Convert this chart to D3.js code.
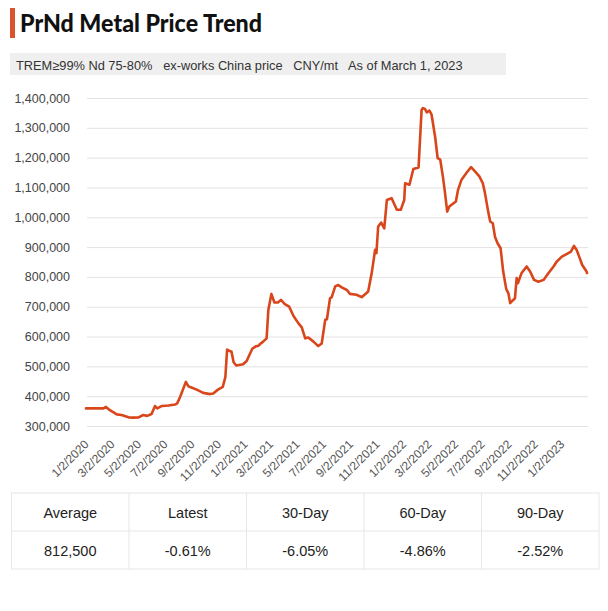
<!DOCTYPE html>
<html>
<head>
<meta charset="utf-8">
<script src="https://cdn.jsdelivr.net/npm/d3@7"></script>
<style>
  html, body { margin: 0; padding: 0; background: #fff; }
  svg { display: block; font-family: "Liberation Sans", Arial, sans-serif; }
</style>
</head>
<body>
<div id="chart"></div>
<script>
// ---- data ----
const title = "PrNd Metal Price Trend";
const subtitle = "TREM\u226599% Nd 75-80%   ex-works China price   CNY/mt   As of March 1, 2023";

const dates = [
  "2020-01-02","2020-02-11","2020-02-17","2020-02-26","2020-03-13","2020-03-24","2020-04-09","2020-04-20",
  "2020-05-02","2020-05-13","2020-05-22","2020-06-01","2020-06-09","2020-06-14","2020-06-24","2020-07-10",
  "2020-07-25","2020-07-30","2020-08-06","2020-08-19","2020-08-25","2020-09-01","2020-09-13","2020-09-28",
  "2020-10-14","2020-10-21","2020-11-01","2020-11-12","2020-11-18","2020-11-22","2020-11-28","2020-12-02",
  "2020-12-07","2020-12-13","2020-12-29","2021-01-06","2021-01-19","2021-01-27","2021-02-02","2021-02-06",
  "2021-02-13","2021-02-21","2021-02-25","2021-03-04","2021-03-11","2021-03-19","2021-03-26","2021-04-04",
  "2021-04-14","2021-04-24","2021-05-05","2021-05-13","2021-05-21","2021-05-28","2021-06-09","2021-06-20",
  "2021-06-28","2021-07-06","2021-07-10","2021-07-17","2021-07-21","2021-07-29","2021-08-05","2021-08-13",
  "2021-08-25","2021-09-01","2021-09-16","2021-09-28","2021-10-13","2021-10-21","2021-10-29","2021-11-01",
  "2021-11-05","2021-11-12","2021-11-19","2021-11-25","2021-12-06","2021-12-18","2021-12-27","2022-01-04",
  "2022-01-06","2022-01-16","2022-01-25","2022-02-06","2022-02-13","2022-02-16","2022-02-21","2022-02-25",
  "2022-03-03","2022-03-08","2022-03-16","2022-03-22","2022-03-28","2022-04-03","2022-04-08","2022-04-13",
  "2022-04-18","2022-04-23","2022-05-03","2022-05-08","2022-05-16","2022-05-28","2022-06-07","2022-06-16",
  "2022-06-26","2022-07-04","2022-07-09","2022-07-17","2022-07-21","2022-07-27","2022-08-01","2022-08-07",
  "2022-08-14","2022-08-20","2022-08-27","2022-09-01","2022-09-05","2022-09-11","2022-09-16","2022-09-20",
  "2022-09-23","2022-10-01","2022-10-13","2022-10-21","2022-10-30","2022-11-09","2022-11-21","2022-12-02",
  "2022-12-14","2022-12-21","2023-01-02","2023-01-14","2023-01-23","2023-01-30","2023-02-05","2023-02-11",
  "2023-02-18","2023-02-28","2023-03-01"
];
const prices = [
  359000,359000,364000,353000,339000,337000,329000,328000,
  329000,337000,334000,340000,367000,359000,367000,369000,
  372000,376000,398000,448000,433000,429000,422000,411000,
  407000,409000,422000,431000,464000,556000,551000,550000,
  514000,503000,507000,518000,559000,567000,569000,575000,
  583000,594000,689000,743000,714000,714000,723000,709000,
  700000,669000,645000,631000,594000,597000,583000,568000,
  577000,656000,658000,728000,732000,768000,773000,765000,
  756000,743000,740000,732000,751000,812000,891000,880000,
  969000,982000,963000,1058000,1064000,1025000,1025000,1058000,
  1114000,1109000,1162000,1167000,1360000,1366000,1363000,1352000,
  1358000,1344000,1271000,1198000,1193000,1137000,1081000,1019000,
  1036000,1042000,1053000,1092000,1126000,1150000,1168000,1154000,
  1137000,1114000,1081000,1014000,986000,980000,935000,913000,
  896000,818000,759000,745000,712000,721000,728000,796000,
  779000,812000,835000,818000,790000,784000,790000,812000,
  835000,851000,868000,877000,885000,904000,891000,868000,
  840000,818000,813000
];

const xTickLabels = ["1/2/2020","3/2/2020","5/2/2020","7/2/2020","9/2/2020","11/2/2020",
  "1/2/2021","3/2/2021","5/2/2021","7/2/2021","9/2/2021","11/2/2021",
  "1/2/2022","3/2/2022","5/2/2022","7/2/2022","9/2/2022","11/2/2022","1/2/2023"];
const yTicks = [300000,400000,500000,600000,700000,800000,900000,1000000,1100000,1200000,1300000,1400000];

const statHeaders = ["Average","Latest","30-Day","60-Day","90-Day"];
const statValues = ["812,500","-0.61%","-6.05%","-4.86%","-2.52%"];

// ---- drawing ----
const W = 608, H = 611;
const svg = d3.select("#chart").append("svg").attr("width", W).attr("height", H);

const parse = d3.timeParse("%Y-%m-%d");
const parseTick = d3.timeParse("%m/%d/%Y");
const series = dates.map((d, i) => ({ date: parse(d), value: prices[i] }));

// title
svg.append("rect").attr("x", 10).attr("y", 8).attr("width", 5).attr("height", 30).attr("fill", "#d9532b");
svg.append("text").attr("x", 20).attr("y", 32)
  .attr("font-family", "Lato, 'Open Sans', sans-serif").attr("font-weight", 900)
  .attr("font-size", 24).attr("fill", "#111")
  .attr("textLength", 242).attr("lengthAdjust", "spacingAndGlyphs")
  .text(title);

// subtitle
svg.append("rect").attr("x", 10).attr("y", 53).attr("width", 496).attr("height", 22).attr("fill", "#efefef");
svg.append("text").attr("x", 16).attr("y", 69.5).attr("font-size", 12.8).attr("fill", "#333")
  .style("white-space", "pre").text(subtitle);

// scales
const x = d3.scaleTime().domain([parse("2020-01-02"), parse("2023-03-01")]).range([86, 587]);
const y = d3.scaleLinear().domain([300000, 1400000]).range([426, 98]);

// grid + y labels
const yAxis = d3.axisLeft(y).tickValues(yTicks).tickSize(-(588 - 87)).tickPadding(17)
  .tickFormat(d3.format(","));
const gy = svg.append("g").attr("transform", "translate(87,0)").call(yAxis);
gy.select(".domain").remove();
gy.selectAll(".tick line").attr("stroke", "#e3e3e3").attr("stroke-width", 1);
gy.selectAll(".tick text").attr("font-size", 12.5).attr("fill", "#444")
  .attr("font-family", "'Liberation Sans', Arial, sans-serif");

// x labels
const xAxis = d3.axisBottom(x).tickValues(xTickLabels.map(parseTick)).tickSize(0)
  .tickFormat((d, i) => xTickLabels[i]);
const gx = svg.append("g").attr("transform", "translate(0,432)").call(xAxis);
gx.select(".domain").remove();
gx.selectAll(".tick text")
  .attr("font-size", 12).attr("fill", "#555")
  .attr("font-family", "'Liberation Sans', Arial, sans-serif")
  .attr("text-anchor", "end")
  .attr("dy", 0).attr("y", 0)
  .attr("transform", "translate(3,13) rotate(-45)");

// line
const line = d3.line().x(d => x(d.date)).y(d => y(d.value));
svg.append("path").datum(series).attr("d", line)
  .attr("fill", "none").attr("stroke", "#d9461b").attr("stroke-width", 2.6)
  .attr("stroke-linejoin", "round").attr("stroke-linecap", "round");

// stats table
const tx0 = 11.5, tw = 117.5, ty0 = 493, rh = 38;
const tbl = svg.append("g");
tbl.append("rect").attr("x", tx0).attr("y", ty0).attr("width", tw * 5).attr("height", rh * 2)
  .attr("fill", "#fff").attr("stroke", "#e6e6e6");
tbl.append("line").attr("x1", tx0).attr("x2", tx0 + tw * 5).attr("y1", ty0 + rh).attr("y2", ty0 + rh)
  .attr("stroke", "#e6e6e6");
tbl.selectAll("line.col").data(d3.range(1, 5)).join("line").attr("class", "col")
  .attr("x1", i => tx0 + tw * i).attr("x2", i => tx0 + tw * i)
  .attr("y1", ty0).attr("y2", ty0 + rh * 2).attr("stroke", "#e6e6e6");
tbl.selectAll("text.h").data(statHeaders).join("text").attr("class", "h")
  .attr("x", (d, i) => tx0 + tw * (i + 0.5)).attr("y", ty0 + 24.5)
  .attr("text-anchor", "middle").attr("font-size", 14.5).attr("fill", "#222").text(d => d);
tbl.selectAll("text.v").data(statValues).join("text").attr("class", "v")
  .attr("x", (d, i) => tx0 + tw * (i + 0.5)).attr("y", ty0 + rh + 25)
  .attr("text-anchor", "middle").attr("font-size", 14.5).attr("fill", "#222").text(d => d);
</script>
</body>
</html>
